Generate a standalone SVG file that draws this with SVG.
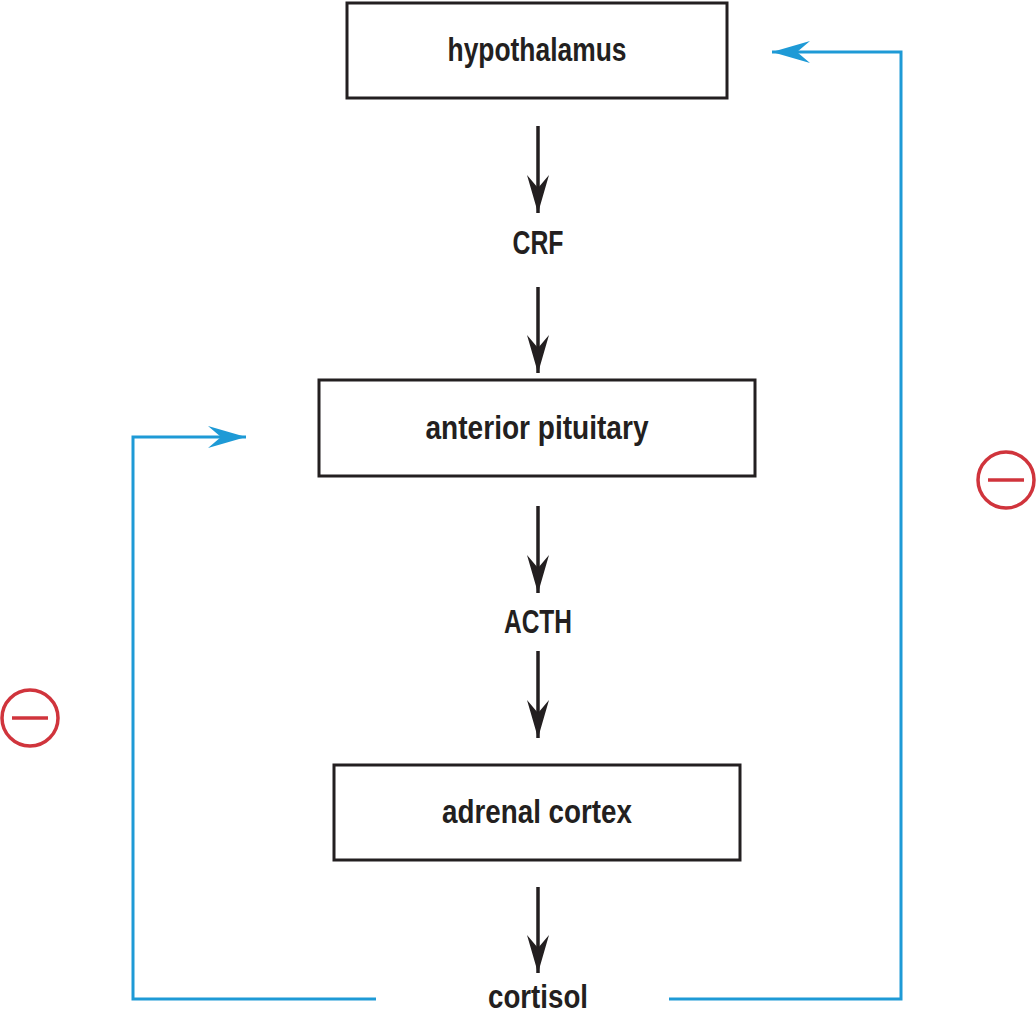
<svg xmlns="http://www.w3.org/2000/svg" width="1036" height="1013" viewBox="0 0 1036 1013">
<style>
.box{fill:#fff;stroke:#231f20;stroke-width:3}
.t{font-family:"Liberation Sans",Arial,sans-serif;font-weight:bold;font-size:33px;fill:#231f20;text-anchor:middle}
.k{stroke:#231f20;stroke-width:3.5;fill:none}
.b{stroke:#1e9ad6;stroke-width:3;fill:none}
.m{stroke:#d0343c;stroke-width:3.5;fill:#fff}
</style>
<defs>
<marker id="ak" markerUnits="userSpaceOnUse" markerWidth="40" markerHeight="30" refX="38" refY="11" viewBox="0 0 40 22" orient="auto">
<path d="M38 11 L0 0 L13 11 L0 22 Z" fill="#231f20"/></marker>
<marker id="ab" markerUnits="userSpaceOnUse" markerWidth="40" markerHeight="30" refX="38" refY="11" viewBox="0 0 40 22" orient="auto">
<path d="M38 11 L0 0 L13 11 L0 22 Z" fill="#1e9ad6"/></marker>
</defs>
<g id="connectors">
<path class="k" d="M538 126V213" marker-end="url(#ak)"/>
<path class="k" d="M538 287V373" marker-end="url(#ak)"/>
<path class="k" d="M538 506V593" marker-end="url(#ak)"/>
<path class="k" d="M538 651V738" marker-end="url(#ak)"/>
<path class="k" d="M538 887V973" marker-end="url(#ak)"/>
<path class="b" d="M669 999H901V52H772" marker-end="url(#ab)"/>
<path class="b" d="M376 999H133V437H246" marker-end="url(#ab)"/>
</g>
<g id="hypothalamus"><rect class="box" x="347" y="3" width="380" height="95"/><text class="t" x="537" y="61" textLength="179" lengthAdjust="spacingAndGlyphs">hypothalamus</text></g>
<g id="crf"><text class="t" x="538" y="254" textLength="51" lengthAdjust="spacingAndGlyphs">CRF</text></g>
<g id="anterior-pituitary"><rect class="box" x="319" y="380" width="436" height="96"/><text class="t" x="537" y="439" textLength="223" lengthAdjust="spacingAndGlyphs">anterior pituitary</text></g>
<g id="acth"><text class="t" x="538" y="633" textLength="68" lengthAdjust="spacingAndGlyphs">ACTH</text></g>
<g id="adrenal-cortex"><rect class="box" x="334" y="765" width="406" height="95"/><text class="t" x="537" y="823" textLength="190" lengthAdjust="spacingAndGlyphs">adrenal cortex</text></g>
<g id="cortisol"><text class="t" x="538" y="1008" textLength="100" lengthAdjust="spacingAndGlyphs">cortisol</text></g>
<g id="minus-right"><circle class="m" cx="1006" cy="480" r="28"/><path class="m" d="M988 480H1024"/></g>
<g id="minus-left"><circle class="m" cx="30" cy="718" r="28"/><path class="m" d="M12 718H48"/></g>
</svg>
